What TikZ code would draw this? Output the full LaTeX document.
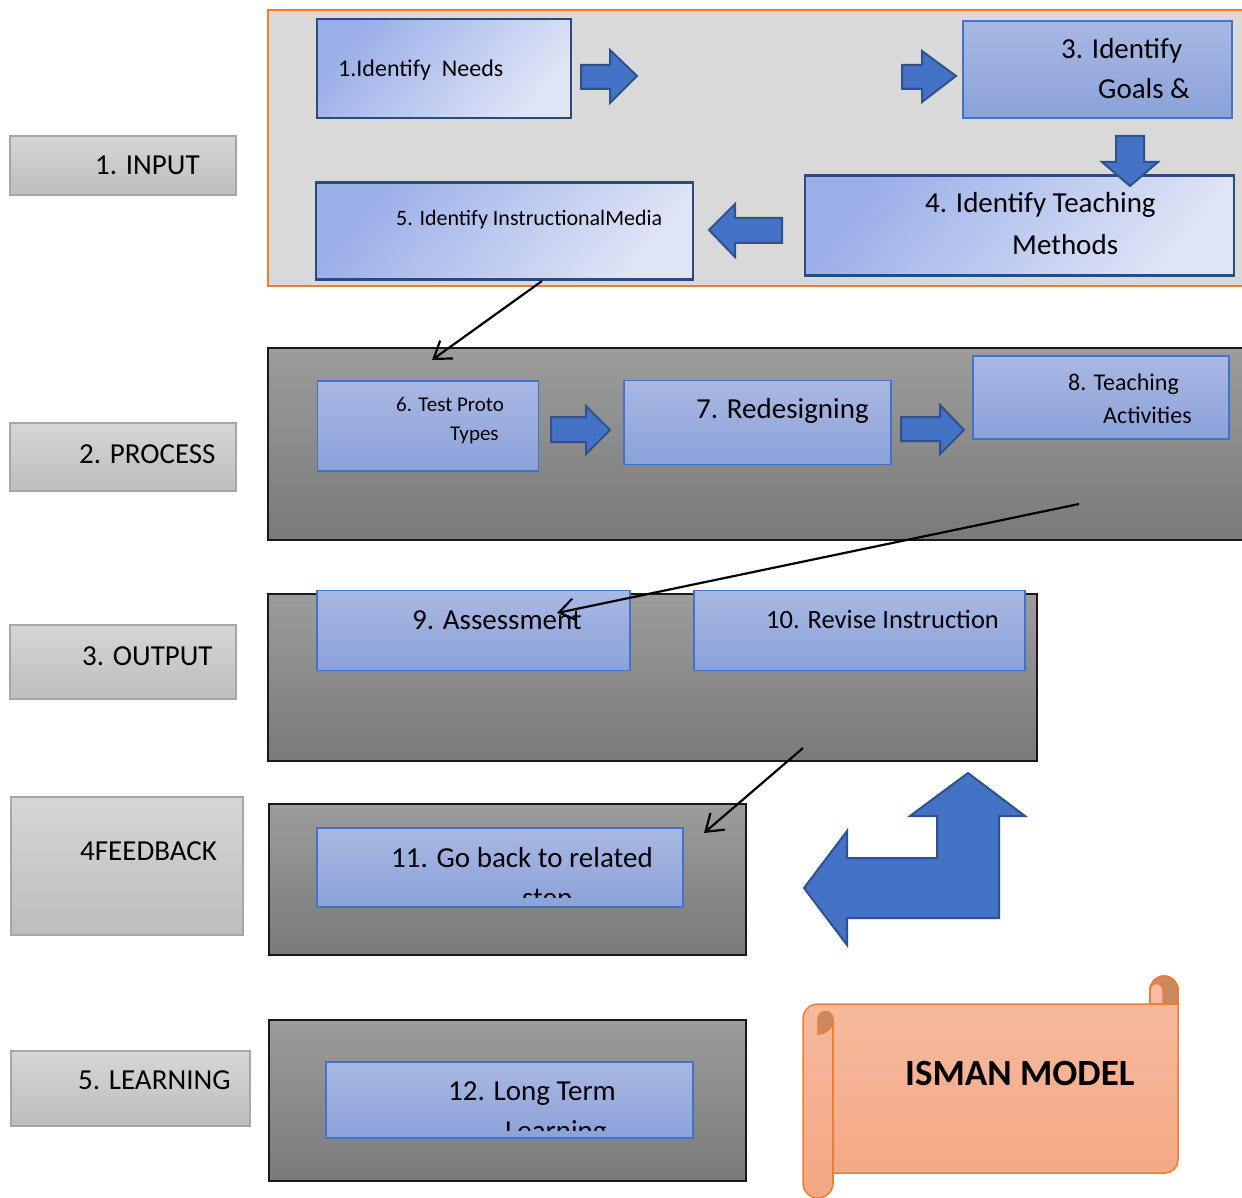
\documentclass[tikz,border=0pt]{standalone}
\usepackage{fontspec}
\setmainfont{Carlito}
\usetikzlibrary{arrows.meta}
\definecolor{navy}{HTML}{2B4A7E}
\definecolor{navyTL}{HTML}{9AAEE8}
\definecolor{navyBR}{HTML}{E0E5F6}
\definecolor{medTop}{HTML}{A9B8E3}
\definecolor{medBot}{HTML}{8AA2D9}
\definecolor{medBorder}{HTML}{4472C4}
\definecolor{arrFill}{HTML}{4472C4}
\definecolor{arrBorder}{HTML}{2F528F}
\definecolor{bandTop}{HTML}{9C9C9C}
\definecolor{bandBot}{HTML}{7A7A7A}
\definecolor{labTop}{HTML}{D6D6D6}
\definecolor{labBot}{HTML}{BDBDBD}
\definecolor{labBorder}{HTML}{A6A6A6}
\definecolor{inGray}{HTML}{D9D9D9}
\definecolor{orangeB}{HTML}{ED7D31}
\definecolor{scrTop}{HTML}{F7BCA1}
\definecolor{scrBot}{HTML}{F4A683}
\definecolor{scrDark}{HTML}{C98A61}
\newcommand\fsz[1]{\fontsize{#1}{#1}\selectfont}
\begin{document}
\begin{tikzpicture}[x=1pt,y=-1pt,
  navybox/.style={draw=navy, line width=2.5pt, top color=navyTL, bottom color=navyBR, shading angle=50, inner sep=0pt},
  medbox/.style={draw=medBorder, line width=1.2pt, top color=medTop, bottom color=medBot, inner sep=0pt},
  band/.style={draw=black!90, line width=1.5pt, top color=bandTop, bottom color=bandBot, inner sep=0pt},
  labbox/.style={draw=labBorder, line width=1.5pt, top color=labTop, bottom color=labBot, inner sep=0pt},
  blockarrow/.style={fill=arrFill, draw=arrBorder, line width=2pt, line join=miter},
  tx/.style={anchor=base west, inner sep=0pt, text=black},
  conn/.style={draw=black, line width=2.2pt, -{Straight Barb[length=16pt,width=22pt,line width=2.2pt]}}
]
\useasboundingbox (0,0) rectangle (1242,1198);
\fill[white] (0,0) rectangle (1242,1198);

% left labels
\node[labbox, minimum width=226, minimum height=59] (l1) at (123,165.5) {};
\node[labbox, minimum width=226, minimum height=68] (l2) at (123,457) {};
\node[labbox, minimum width=226, minimum height=74] (l3) at (123,662) {};
\node[labbox, minimum width=232, minimum height=138] (l4) at (127,866) {};
\node[labbox, minimum width=239, minimum height=75] (l5) at (130.5,1088.5) {};
\node[tx, font=\fsz{29}] (tl1) at (95,175) {1. INPUT};
\node[tx, font=\fsz{29}] (tl2) at (79,463) {2. PROCESS};
\node[tx, font=\fsz{29}] (tl3) at (82,665) {3. OUTPUT};
\node[tx, font=\fsz{29}] (tl4) at (80,860) {4FEEDBACK};
\node[tx, font=\fsz{29}] (tl5) at (78,1089) {5. LEARNING};

% band 1 (input)
\node[draw=orangeB, fill=inGray, line width=1.5pt, minimum width=982, minimum height=276, inner sep=0pt] (band1) at (759,148) {};
\node[navybox, minimum width=254, minimum height=99] (b1) at (444,68.5) {};
\node[medbox, minimum width=269, minimum height=97] (b3) at (1097.5,69.5) {};
\node[navybox, minimum width=429, minimum height=100] (b4) at (1019.5,225.5) {};
\node[navybox, minimum width=377, minimum height=97] (b5) at (504.5,231) {};
\node[tx, font=\fsz{24}] (t1) at (338,77) {1.Identify~~Needs};
\node[tx, font=\fsz{29}] (t3a) at (1061,59) {3. Identify};
\node[tx, font=\fsz{29}] (t3b) at (1098,99) {Goals \&};
\node[tx, font=\fsz{29}] (t4a) at (925,213) {4. Identify Teaching};
\node[tx, font=\fsz{29}] (t4b) at (1012,255) {Methods};
\node[tx, font=\fsz{22}] (t5) at (396,226) {5. Identify InstructionalMedia};
\draw[blockarrow] (581,65) -- (610,65) -- (610,50) -- (637,76) -- (610,103) -- (610,89) -- (581,89) -- cycle;
\draw[blockarrow] (902,65) -- (922,65) -- (922,51) -- (956,76) -- (922,102) -- (922,89) -- (902,89) -- cycle;
\draw[blockarrow] (1116,136) -- (1144,136) -- (1144,162) -- (1158,162) -- (1130,186) -- (1102,162) -- (1116,162) -- cycle;
\draw[blockarrow] (782,218) -- (735,218) -- (735,204) -- (709,230) -- (735,257) -- (735,243) -- (782,243) -- cycle;

% band 2 (process)
\node[band, minimum width=982, minimum height=192] (band2) at (759,444) {};
\node[medbox, minimum width=221, minimum height=90] (b6) at (428,426) {};
\node[medbox, minimum width=267, minimum height=84] (b7) at (757.5,422.5) {};
\node[medbox, minimum width=256, minimum height=83] (b8) at (1101,397.5) {};
\node[tx, font=\fsz{21}] (t6a) at (396,411) {6. Test Proto};
\node[tx, font=\fsz{21}] (t6b) at (450,440) {Types};
\node[tx, font=\fsz{29}] (t7) at (696,418) {7. Redesigning};
\node[tx, font=\fsz{24}] (t8a) at (1068,390) {8. Teaching};
\node[tx, font=\fsz{24}] (t8b) at (1103,423) {Activities};
\draw[blockarrow] (551,417) -- (586,417) -- (586,406) -- (610,430) -- (586,454) -- (586,442) -- (551,442) -- cycle;
\draw[blockarrow] (901,417) -- (940,417) -- (940,405) -- (964,430) -- (940,454) -- (940,441) -- (901,441) -- cycle;

% band 3 (output)
\node[band, minimum width=769, minimum height=167] (band3) at (652.5,677.5) {};
\node[medbox, minimum width=313, minimum height=80] (b9) at (473.5,630.5) {};
\node[medbox, minimum width=331, minimum height=80] (b10) at (859.5,630.5) {};
\node[tx, font=\fsz{29}] (t9) at (412,629) {9. Assessment};
\node[tx, font=\fsz{26.5}] (t10) at (766,628) {10. Revise Instruction};

% band 4 (feedback)
\node[band, minimum width=477, minimum height=151] (band4) at (507.5,879.5) {};
\node[medbox, minimum width=366, minimum height=79] (b11) at (500,867.5) {};
\node[tx, font=\fsz{29}] (t11a) at (391,867) {11. Go back to related};
\begin{scope}
\clip (318,829) rectangle (682,897);
\node[tx, font=\fsz{29}] (t11b) at (522,907) {step};
\end{scope}

% band 5 (learning)
\node[band, minimum width=477, minimum height=161] (band5) at (507.5,1100.5) {};
\node[medbox, minimum width=367, minimum height=76] (b12) at (509.5,1100) {};
\node[tx, font=\fsz{29}] (t12a) at (448,1100) {12. Long Term};
\begin{scope}
\clip (327,1063) rectangle (692,1130);
\node[tx, font=\fsz{29}] (t12b) at (505,1140) {Learning};
\end{scope}

% bent arrow
\draw[blockarrow] (968,773) -- (1025,816) -- (999,816) -- (999,918) -- (847,918) -- (847,945) -- (804,888) -- (847,831) -- (847,858) -- (937,858) -- (937,816) -- (910,816) -- cycle;

% scroll
\path[top color=scrTop, bottom color=scrBot, draw=orangeB, line width=1.5pt]
  (833,1173) -- (1165,1173) arc[start angle=90, end angle=0, radius=13] -- (1178,990)
  arc[start angle=0, end angle=-180, radius=14] -- (1150,1004) -- (818,1004)
  arc[start angle=-90, end angle=-180, radius=15] -- (803,1183)
  arc[start angle=-180, end angle=-360, radius=15] -- (833,1173);
\path[fill=scrDark, draw=orangeB, line width=1.5pt]
  (1150,1004) -- (1150,990) arc[start angle=-180, end angle=0, radius=14] -- (1178,1004) -- cycle;
\path[fill=scrTop, draw=orangeB, line width=1.5pt]
  (1150,1004) -- (1150,990) arc[start angle=-180, end angle=0, radius=6.5] -- (1163,1004) -- cycle;
\draw[orangeB, line width=1.5pt] (1150,1004) -- (1178,1004);
\path[fill=scrDark, draw=orangeB, line width=1.5pt]
  (818,1034) arc[start angle=90, end angle=0, radius=15] arc[start angle=0, end angle=-180, radius=7.5] -- cycle;
\draw[orangeB, line width=1.5pt] (833,1019) -- (833,1183);
\node[tx, font=\fsz{37}\bfseries] (ism) at (905,1085) {ISMAN MODEL};

% connectors
\coordinate (c1s) at (542,281);
\coordinate (c1e) at (432,360);
\coordinate (c2s) at (1079,504);
\coordinate (c2e) at (557,613);
\coordinate (c3s) at (803,748);
\coordinate (c3e) at (704,833);
\draw[conn] (c1s) -- (c1e);
\draw[conn] (c2s) -- (c2e);
\draw[conn] (c3s) -- (c3e);
\end{tikzpicture}
\end{document}
